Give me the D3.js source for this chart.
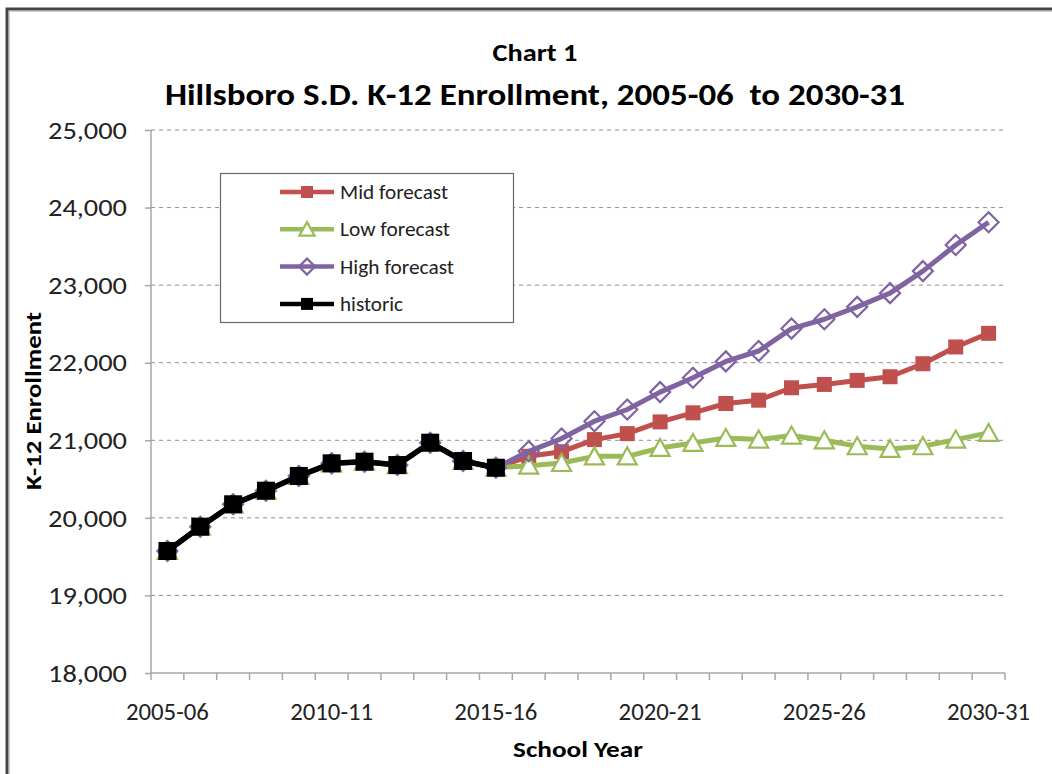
<!DOCTYPE html>
<meta charset="utf-8">
<style>
body{margin:0;background:white;}
svg{display:block;font-family:Carlito,Lato,"Open Sans",sans-serif;}
.grid line{stroke:#8c8c8c;stroke-dasharray:4,4;stroke-width:1;}
.axis path,.axis line{stroke:#a6a6a6;stroke-width:1.5;}
.axis text{font-size:24px;fill:#222;font-family:Carlito,Lato,sans-serif;}
</style>
<body>
<script src="https://d3js.org/d3.v7.min.js"></script>
<script>
var years = ["2005-06","2006-07","2007-08","2008-09","2009-10","2010-11","2011-12","2012-13","2013-14","2014-15","2015-16","2016-17","2017-18","2018-19","2019-20","2020-21","2021-22","2022-23","2023-24","2024-25","2025-26","2026-27","2027-28","2028-29","2029-30","2030-31"];
var labelYears = ["2005-06","2010-11","2015-16","2020-21","2025-26","2030-31"];
var yTicks = [18000,19000,20000,21000,22000,23000,24000,25000];

var historic = [19573,19886,20175,20350,20540,20703,20724,20681,20969,20733,20646];
var midForecast = [20793,20853,21009,21086,21237,21354,21474,21517,21677,21720,21772,21819,21987,22203,22379];
var lowForecast = [20673,20707,20793,20793,20901,20966,21030,21009,21061,21000,20923,20888,20923,21009,21095];
var highForecast = [20858,21022,21246,21397,21621,21806,22017,22151,22440,22560,22720,22897,23181,23517,23810];

var W = 1052, H = 774;
var svg = d3.select("body").append("svg").attr("width", W).attr("height", H);

// outer frame
svg.append("rect").attr("x",7).attr("y",9).attr("width",W+20).attr("height",H+20)
  .attr("fill","none").attr("stroke","#444").attr("stroke-width",3);
svg.append("rect").attr("x",9.5).attr("y",11.5).attr("width",W+20).attr("height",H+20)
  .attr("fill","none").attr("stroke","#ccc").attr("stroke-width",1);

var pLeft = 151, pRight = 1005, pTop = 130, pBottom = 673;

var x = d3.scaleBand().domain(years).range([pLeft, pRight]);
var y = d3.scaleLinear().domain([18000, 25000]).range([pBottom, pTop]);
var cx = function(yr){ return x(yr) + x.bandwidth()/2; };

function fit(sel, w){
  sel.attr("textLength", w).attr("lengthAdjust", "spacingAndGlyphs");
  return sel;
}

// gridlines
svg.append("g").attr("class","grid").selectAll("line")
  .data(yTicks.slice(1)).enter().append("line")
  .attr("x1", pLeft).attr("x2", pRight)
  .attr("y1", function(d){ return y(d); }).attr("y2", function(d){ return y(d); });

// y axis
var yAxis = svg.append("g").attr("class","axis").attr("transform","translate("+pLeft+",0)")
  .call(d3.axisLeft(y).tickValues(yTicks).tickSize(6).tickPadding(18).tickFormat(d3.format(",")));
yAxis.select(".domain").remove();
yAxis.append("line").attr("x1",0).attr("x2",0).attr("y1",pTop).attr("y2",pBottom);
fit(yAxis.selectAll("text").attr("dy","0.34em"), 79);

// x axis, ticks between categories
var xg = svg.append("g").attr("class","axis").attr("transform","translate(0,"+pBottom+")");
xg.append("line").attr("x1",pLeft).attr("x2",pRight).attr("y1",0).attr("y2",0);
xg.selectAll(".tk").data(years.concat(["end"])).enter().append("line")
  .attr("x1", function(d,i){ return pLeft + i*x.step(); })
  .attr("x2", function(d,i){ return pLeft + i*x.step(); })
  .attr("y1",0).attr("y2",7);
fit(xg.selectAll("text").data(labelYears).enter().append("text")
  .attr("x", function(d){ return cx(d); }).attr("y", 47)
  .attr("text-anchor","middle").text(function(d){ return d; }), 83);

// build series (forecasts start from historic values)
var histPts = historic.map(function(v,i){ return {yr: years[i], v: v}; });
function withHist(arr){
  return histPts.concat(arr.map(function(v,i){ return {yr: years[i+11], v: v}; }));
}
var series = [
  {name:"Mid forecast", color:"#c0504d", marker:"square", data: withHist(midForecast), lw:108},
  {name:"Low forecast", color:"#9bbb59", marker:"triangle", data: withHist(lowForecast), lw:110},
  {name:"High forecast", color:"#8064a2", marker:"diamond", data: withHist(highForecast), lw:114},
  {name:"historic", color:"#000000", marker:"bigsquare", data: histPts, lw:63}
];

var line = d3.line().x(function(d){ return cx(d.yr); }).y(function(d){ return y(d.v); });

function drawMarker(g, type, color, px, py, k){
  k = k || 1;
  if (type === "square") {
    g.append("rect").attr("x",px-7.5*k).attr("y",py-7.5*k).attr("width",15*k).attr("height",15*k).attr("fill",color);
  } else if (type === "bigsquare") {
    g.append("rect").attr("x",px-9*k).attr("y",py-9*k).attr("width",18*k).attr("height",18*k).attr("fill",color);
  } else if (type === "triangle") {
    g.append("path").attr("d","M"+px+","+(py-9*k)+"L"+(px+9.5*k)+","+(py+8*k)+"L"+(px-9.5*k)+","+(py+8*k)+"Z")
      .attr("fill","white").attr("stroke",color).attr("stroke-width",2.2);
  } else if (type === "diamond") {
    g.append("path").attr("d","M"+px+","+(py-10*k)+"L"+(px+10*k)+","+py+"L"+px+","+(py+10*k)+"L"+(px-10*k)+","+py+"Z")
      .attr("fill","white").attr("fill-opacity",0).attr("stroke",color).attr("stroke-width",2.2);
  }
}

series.forEach(function(s){
  var g = svg.append("g");
  g.append("path").datum(s.data).attr("d", line)
    .attr("fill","none").attr("stroke", s.color).attr("stroke-width", s.marker==="bigsquare"?5.5:5)
    .attr("stroke-linejoin","round");
  s.data.forEach(function(d){ drawMarker(g, s.marker, s.color, cx(d.yr), y(d.v)); });
});

// legend
var lg = svg.append("g");
lg.append("rect").attr("x",220.5).attr("y",173.5).attr("width",293).attr("height",149)
  .attr("fill","white").attr("stroke","#666").attr("stroke-width",1.2);
series.forEach(function(s,i){
  var ly = 192 + i*37.3;
  lg.append("line").attr("x1",280).attr("x2",334).attr("y1",ly).attr("y2",ly)
    .attr("stroke",s.color).attr("stroke-width",4.5);
  drawMarker(lg, s.marker==="bigsquare"?"square":s.marker, s.color, 307, ly, 0.8);
  fit(lg.append("text").attr("x",340).attr("y",ly+7).attr("font-size",20).attr("fill","#222").text(s.name), s.lw);
});

// titles
fit(svg.append("text").attr("x",535).attr("y",61).attr("text-anchor","middle")
  .attr("font-size",25).attr("font-weight","bold").text("Chart 1"), 85);
fit(svg.append("text").attr("x",535).attr("y",105).attr("text-anchor","middle")
  .attr("font-size",31).attr("font-weight","bold").style("white-space","pre")
  .text("Hillsboro S.D. K-12 Enrollment, 2005-06  to 2030-31"), 740);
fit(svg.append("text").attr("x",578).attr("y",757).attr("text-anchor","middle")
  .attr("font-size",23).attr("font-weight","bold").text("School Year"), 130);
fit(svg.append("text").attr("transform","translate(41,401) rotate(-90)").attr("text-anchor","middle")
  .attr("font-size",23).attr("font-weight","bold").text("K-12 Enrollment"), 178);
</script>
</body>
